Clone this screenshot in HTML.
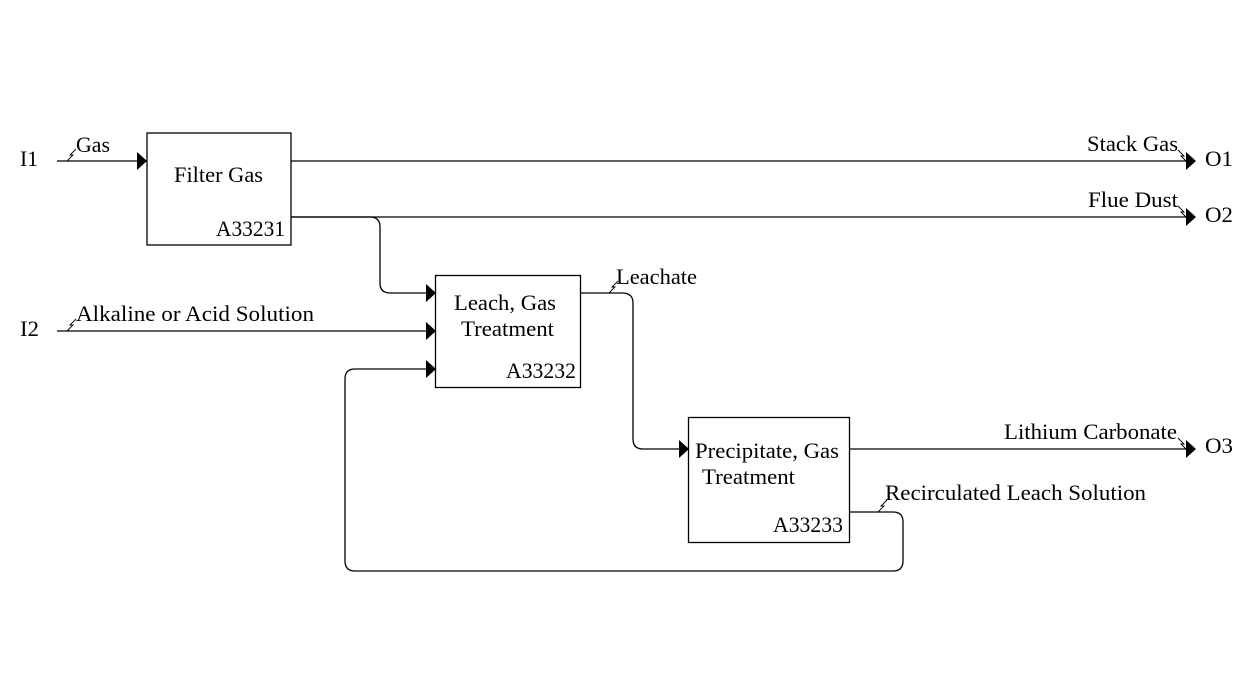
<!DOCTYPE html>
<html><head><style>body{margin:0;background:#fff}svg{display:block}text{font-family:"Liberation Serif",serif;font-size:22px;fill:#000}</style></head><body>
<svg width="1234" height="685" viewBox="0 0 1234 685" xmlns="http://www.w3.org/2000/svg">
<g fill="none" stroke="#000" stroke-width="1.3">
<rect x="147" y="133" width="144" height="112"/>
<rect x="435.5" y="275.5" width="145" height="112"/>
<rect x="688.5" y="417.5" width="161" height="125"/>
<path d="M57 161H140"/>
<path d="M291 161H1188"/>
<path d="M291 217H370Q380 217 380 227V283Q380 293 390 293H428"/>
<path d="M291 217H1188"/>
<path d="M57 331H428"/>
<path d="M849 512H893Q903 512 903 522V561Q903 571 893 571H355Q345 571 345 561V379Q345 369 355 369H428"/>
<path d="M580 293H622Q633 293 633 303V439Q633 449 643 449H681"/>
<path d="M849 449H1188"/>
<path d="M67 161l6-6l-3 0l6-6M67 331l6-6l-3 0l6-6M878 512l6-6l-3 0l6-6M609 293l6-6l-3 0l6-6M1178 150l6 6l-3 0l6 6M1178 206l6 6l-3 0l6 6M1178 438l6 6l-3 0l6 6" stroke-width="0.9"/>
</g>
<g fill="#000">
<path d="M137 152L147 161L137 170Z"/>
<path d="M426 284L436 293L426 302Z"/>
<path d="M426 322L436 331L426 340Z"/>
<path d="M426 360L436 369L426 378Z"/>
<path d="M679 440L689 449L679 458Z"/>
<path d="M1186 152L1196 161L1186 170Z"/>
<path d="M1186 208L1196 217L1186 226Z"/>
<path d="M1186 440L1196 449L1186 458Z"/>
</g>
<g lengthAdjust="spacingAndGlyphs">
<text x="20" y="166" textLength="18" lengthAdjust="spacingAndGlyphs">I1</text>
<text x="20" y="336" textLength="19" lengthAdjust="spacingAndGlyphs">I2</text>
<text x="76" y="152" textLength="34" lengthAdjust="spacingAndGlyphs">Gas</text>
<text x="76" y="321" textLength="238" lengthAdjust="spacingAndGlyphs">Alkaline or Acid Solution</text>
<text x="174" y="182" textLength="89" lengthAdjust="spacingAndGlyphs">Filter Gas</text>
<text x="216" y="236" textLength="69" lengthAdjust="spacingAndGlyphs">A33231</text>
<text x="454" y="310" textLength="102" lengthAdjust="spacingAndGlyphs">Leach, Gas</text>
<text x="461" y="336" textLength="93" lengthAdjust="spacingAndGlyphs">Treatment</text>
<text x="506" y="378" textLength="70" lengthAdjust="spacingAndGlyphs">A33232</text>
<text x="616" y="284" textLength="81" lengthAdjust="spacingAndGlyphs">Leachate</text>
<text x="695" y="458" textLength="144" lengthAdjust="spacingAndGlyphs">Precipitate, Gas</text>
<text x="702" y="484" textLength="93" lengthAdjust="spacingAndGlyphs">Treatment</text>
<text x="773" y="532" textLength="70" lengthAdjust="spacingAndGlyphs">A33233</text>
<text x="885" y="500" textLength="261" lengthAdjust="spacingAndGlyphs">Recirculated Leach Solution</text>
<text x="1087" y="151" textLength="91" lengthAdjust="spacingAndGlyphs">Stack Gas</text>
<text x="1088" y="207" textLength="90" lengthAdjust="spacingAndGlyphs">Flue Dust</text>
<text x="1004" y="439" textLength="173" lengthAdjust="spacingAndGlyphs">Lithium Carbonate</text>
<text x="1205" y="166" textLength="28" lengthAdjust="spacingAndGlyphs">O1</text>
<text x="1205" y="222" textLength="28" lengthAdjust="spacingAndGlyphs">O2</text>
<text x="1205" y="453" textLength="28" lengthAdjust="spacingAndGlyphs">O3</text>
</g>
</svg>
</body></html>
